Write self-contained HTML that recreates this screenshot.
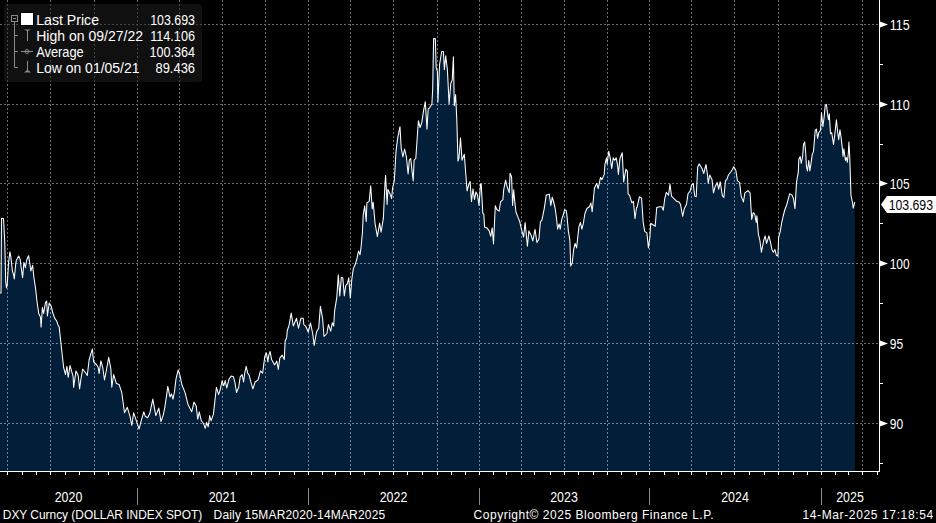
<!DOCTYPE html><html><head><meta charset="utf-8"><style>html,body{margin:0;padding:0;background:#000;overflow:hidden}svg{display:block}</style></head><body>
<svg width="936" height="523" viewBox="0 0 936 523" font-family="'Liberation Sans', sans-serif">
<rect width="936" height="523" fill="#000"/>
<path d="M0.0,293.0 L1.0,293.0 L1.5,218.4 L3.5,218.4 L4.8,243.0 L5.7,281.5 L6.5,288.0 L7.2,285.0 L8.6,262.4 L9.9,251.8 L10.8,256.5 L11.5,262.4 L12.4,271.0 L13.5,274.4 L14.3,279.0 L15.7,264.0 L16.3,260.4 L18.7,256.0 L20.2,259.4 L21.0,266.2 L22.6,277.6 L23.9,262.4 L25.4,267.7 L26.7,260.0 L28.6,255.7 L29.9,264.0 L30.8,271.0 L32.6,265.3 L34.0,278.0 L35.6,288.6 L36.8,299.8 L38.7,313.5 L40.5,317.2 L41.1,327.1 L42.4,307.3 L43.6,313.5 L45.5,302.3 L46.7,301.0 L47.4,316.0 L49.2,303.0 L51.1,306.0 L53.0,313.5 L54.8,318.4 L56.7,321.0 L57.9,324.7 L59.2,327.1 L61.8,351.0 L63.6,367.3 L65.5,374.5 L66.9,366.4 L68.2,377.3 L70.0,365.5 L71.8,371.8 L73.1,376.4 L73.6,387.3 L76.0,370.9 L78.2,375.5 L79.6,389.0 L80.9,379.0 L82.7,369.0 L85.5,372.7 L87.3,375.5 L89.1,360.0 L90.9,353.6 L92.4,349.0 L93.6,361.8 L96.4,364.5 L98.2,367.3 L99.1,373.6 L100.9,360.9 L102.7,367.3 L104.5,380.0 L106.4,370.0 L108.7,357.3 L110.9,369.0 L111.8,387.3 L113.6,374.5 L116.4,383.6 L119.1,384.5 L121.8,392.7 L124.5,412.7 L127.3,407.3 L130.0,416.4 L131.8,425.5 L133.6,412.7 L135.5,418.2 L137.3,423.6 L139.1,429.0 L141.6,419.3 L143.8,411.8 L145.3,416.3 L147.6,417.8 L149.8,413.3 L152.8,399.1 L155.8,415.6 L158.8,408.1 L161.0,421.6 L163.3,414.8 L164.8,407.3 L167.0,392.4 L167.8,386.4 L170.0,396.9 L171.5,393.9 L173.0,399.1 L174.5,391.6 L176.0,378.9 L178.2,370.0 L179.7,374.4 L182.0,385.0 L185.0,392.4 L188.0,404.4 L191.7,411.8 L194.0,402.1 L196.2,405.9 L197.7,419.3 L199.2,411.8 L201.4,420.8 L203.7,423.8 L205.2,428.3 L206.7,422.3 L208.2,426.8 L209.7,415.6 L211.1,420.8 L213.4,414.1 L216.4,387.2 L218.6,394.6 L220.0,390.3 L222.2,380.6 L223.7,385.8 L225.2,380.6 L226.7,388.0 L229.0,379.1 L231.2,376.1 L233.5,376.8 L235.0,382.8 L236.5,392.5 L238.7,387.3 L240.2,376.8 L242.1,374.6 L243.6,382.0 L244.7,373.1 L246.2,366.4 L247.7,373.1 L249.2,375.3 L250.7,381.3 L252.9,388.8 L255.1,382.0 L258.1,379.8 L260.4,370.9 L262.6,373.1 L264.9,355.9 L266.4,352.9 L267.9,361.9 L268.6,355.9 L270.1,351.4 L271.6,359.6 L274.6,364.9 L276.8,361.1 L278.3,369.4 L279.8,358.1 L282.1,355.1 L284.3,359.6 L285.1,340.9 L286.6,337.9 L287.3,330.5 L289.1,325.2 L291.2,313.0 L293.3,326.0 L296.5,318.3 L298.5,328.2 L300.9,318.3 L303.2,318.3 L303.8,324.5 L306.0,326.7 L308.2,332.0 L310.5,323.0 L312.7,333.5 L314.2,345.4 L316.5,332.0 L318.7,328.2 L320.4,306.3 L322.6,318.3 L324.0,336.5 L326.9,333.5 L328.4,324.5 L330.7,331.2 L332.3,322.8 L333.7,326.0 L334.6,310.8 L336.8,297.3 L338.3,274.9 L339.8,295.9 L341.3,277.2 L342.8,277.9 L344.3,295.9 L345.8,285.4 L347.3,283.9 L348.8,277.9 L350.3,298.1 L351.8,279.4 L353.3,268.9 L355.5,263.7 L357.0,258.5 L358.5,251.0 L360.0,254.7 L361.0,247.8 L362.4,232.8 L363.2,214.9 L364.7,205.9 L366.2,221.6 L366.9,202.9 L369.2,201.4 L370.7,185.7 L372.2,208.9 L373.2,202.2 L375.1,223.8 L377.4,236.6 L379.6,223.1 L381.1,232.1 L383.4,217.9 L384.9,185.0 L385.6,175.2 L387.1,204.4 L387.9,189.4 L390.1,193.9 L391.6,198.4 L392.6,187.8 L394.3,180.9 L396.0,151.6 L397.7,137.9 L400.0,126.7 L401.2,148.2 L402.9,156.8 L404.6,149.0 L406.4,156.8 L408.1,174.0 L409.3,160.2 L410.7,158.5 L412.0,170.6 L413.2,180.9 L414.1,160.2 L415.8,158.5 L418.4,120.7 L420.1,127.5 L421.8,122.4 L423.6,110.3 L425.3,101.7 L427.0,129.3 L428.2,108.6 L429.3,108.3 L431.9,104.0 L432.7,88.5 L433.6,38.6 L435.3,38.6 L436.2,67.9 L437.4,71.3 L437.9,102.3 L439.6,64.4 L441.7,51.5 L443.4,51.5 L444.4,69.6 L445.7,55.8 L447.4,69.6 L449.1,104.0 L450.8,83.4 L452.2,79.9 L453.4,56.7 L454.3,105.7 L455.6,94.5 L456.8,119.5 L458.0,161.1 L459.0,158.0 L460.5,137.9 L462.0,160.3 L464.3,154.3 L466.4,182.0 L467.1,190.9 L468.6,185.0 L470.1,181.5 L471.5,201.6 L473.0,188.9 L474.5,199.4 L476.0,191.9 L477.5,194.9 L479.0,205.4 L480.5,184.4 L481.2,183.7 L482.8,213.3 L483.8,214.1 L484.6,227.1 L486.9,227.9 L489.2,230.9 L490.7,236.3 L492.2,227.9 L493.5,243.9 L495.3,205.7 L496.8,209.5 L499.1,211.1 L500.6,201.9 L502.9,199.6 L503.7,189.7 L505.6,180.0 L507.1,186.7 L509.2,192.7 L510.1,173.2 L511.6,177.0 L512.6,205.4 L513.7,189.7 L514.4,198.1 L515.9,211.8 L518.2,217.9 L519.8,221.8 L521.3,228.6 L523.6,237.0 L525.1,222.5 L527.4,246.2 L528.9,230.9 L531.2,235.5 L532.8,240.9 L535.0,229.4 L536.9,242.4 L538.9,239.3 L540.4,221.8 L541.9,220.2 L544.2,208.8 L546.3,194.9 L549.3,194.2 L550.8,205.4 L552.3,197.2 L553.5,201.5 L555.0,207.5 L556.5,218.0 L557.6,229.2 L559.1,223.9 L560.2,229.2 L561.7,219.4 L563.2,215.0 L564.7,209.7 L566.2,210.5 L566.9,215.0 L568.4,231.4 L569.9,240.4 L570.7,266.0 L572.2,263.0 L573.7,249.4 L575.1,243.4 L576.6,247.9 L578.9,226.9 L580.4,222.4 L581.9,229.2 L583.4,223.2 L584.9,213.5 L587.1,208.2 L589.4,206.7 L590.9,203.0 L592.2,211.8 L594.5,187.9 L596.7,183.4 L598.2,188.6 L600.5,177.4 L602.0,179.6 L604.2,174.4 L605.0,163.9 L606.5,157.9 L607.2,163.9 L608.7,151.2 L610.2,157.9 L611.7,168.4 L613.2,157.9 L614.7,160.2 L616.2,157.9 L617.7,166.2 L618.4,174.4 L619.9,158.7 L622.2,152.7 L623.7,181.9 L625.9,169.2 L627.4,171.4 L628.1,193.8 L629.6,195.3 L631.9,202.8 L633.4,201.3 L635.0,218.7 L636.5,207.5 L637.1,207.3 L639.4,196.8 L641.6,198.3 L643.2,222.4 L644.7,231.4 L646.9,232.9 L648.4,247.9 L649.9,237.4 L650.7,223.2 L652.9,224.7 L655.2,226.2 L656.7,207.5 L659.7,206.7 L661.9,206.7 L663.3,210.3 L664.8,198.3 L666.3,192.3 L668.5,195.3 L670.0,184.1 L671.5,196.1 L673.8,198.3 L676.7,201.3 L679.0,202.1 L680.5,204.3 L682.7,216.3 L684.2,208.8 L686.5,204.3 L688.0,193.8 L690.2,190.9 L691.7,184.9 L693.2,183.4 L694.7,196.1 L696.2,196.8 L697.7,166.9 L699.2,163.9 L700.5,166.0 L702.2,169.0 L703.7,173.5 L706.0,164.5 L707.5,175.0 L708.2,183.2 L709.7,175.0 L712.0,179.4 L713.5,192.9 L715.0,186.9 L717.2,182.4 L718.7,189.2 L720.2,181.7 L722.4,195.9 L723.9,197.4 L725.4,180.9 L726.9,179.4 L728.4,175.0 L730.7,172.0 L732.2,169.7 L733.7,166.7 L735.9,170.5 L737.4,180.9 L739.6,182.4 L741.1,195.9 L743.4,201.9 L744.9,192.9 L747.9,190.7 L750.1,192.9 L751.7,219.4 L753.2,212.7 L754.7,214.2 L756.2,222.4 L756.9,215.7 L758.4,234.4 L759.9,240.4 L761.4,252.3 L763.7,240.4 L765.1,235.9 L766.6,243.4 L768.9,235.9 L770.4,241.9 L771.9,249.4 L773.4,252.3 L774.9,249.4 L776.4,255.3 L777.9,256.1 L778.6,237.4 L780.1,232.2 L781.6,223.2 L783.1,216.5 L784.6,210.5 L786.8,204.5 L787.5,201.9 L789.7,193.7 L792.0,195.1 L793.5,198.9 L795.0,208.6 L796.5,182.4 L798.3,171.9 L798.8,159.4 L800.2,156.5 L801.2,163.3 L802.6,156.5 L803.5,144.4 L804.7,142.0 L805.8,153.8 L806.4,166.2 L807.4,171.0 L808.8,160.4 L809.8,171.0 L810.8,165.2 L812.2,154.6 L813.5,151.4 L815.2,130.3 L816.4,129.1 L817.6,138.5 L818.8,132.6 L820.5,130.3 L821.5,112.6 L822.9,126.7 L824.1,117.3 L825.2,105.6 L826.4,104.4 L827.6,113.8 L828.5,119.7 L829.3,113.8 L830.5,133.8 L831.7,132.6 L833.5,144.4 L834.6,136.1 L836.4,119.7 L837.6,131.4 L838.7,139.7 L839.9,129.7 L841.1,137.3 L842.3,147.9 L843.0,156.5 L843.9,148.8 L845.4,160.4 L846.3,157.5 L847.3,162.3 L848.3,153.7 L848.9,142.0 L849.7,156.0 L851.0,195.5 L852.6,203.0 L853.2,208.2 L854.8,202.0 L854.8,471 L0,471 Z" fill="#021e39"/>
<defs><clipPath id="fc"><path d="M0.0,293.0 L1.0,293.0 L1.5,218.4 L3.5,218.4 L4.8,243.0 L5.7,281.5 L6.5,288.0 L7.2,285.0 L8.6,262.4 L9.9,251.8 L10.8,256.5 L11.5,262.4 L12.4,271.0 L13.5,274.4 L14.3,279.0 L15.7,264.0 L16.3,260.4 L18.7,256.0 L20.2,259.4 L21.0,266.2 L22.6,277.6 L23.9,262.4 L25.4,267.7 L26.7,260.0 L28.6,255.7 L29.9,264.0 L30.8,271.0 L32.6,265.3 L34.0,278.0 L35.6,288.6 L36.8,299.8 L38.7,313.5 L40.5,317.2 L41.1,327.1 L42.4,307.3 L43.6,313.5 L45.5,302.3 L46.7,301.0 L47.4,316.0 L49.2,303.0 L51.1,306.0 L53.0,313.5 L54.8,318.4 L56.7,321.0 L57.9,324.7 L59.2,327.1 L61.8,351.0 L63.6,367.3 L65.5,374.5 L66.9,366.4 L68.2,377.3 L70.0,365.5 L71.8,371.8 L73.1,376.4 L73.6,387.3 L76.0,370.9 L78.2,375.5 L79.6,389.0 L80.9,379.0 L82.7,369.0 L85.5,372.7 L87.3,375.5 L89.1,360.0 L90.9,353.6 L92.4,349.0 L93.6,361.8 L96.4,364.5 L98.2,367.3 L99.1,373.6 L100.9,360.9 L102.7,367.3 L104.5,380.0 L106.4,370.0 L108.7,357.3 L110.9,369.0 L111.8,387.3 L113.6,374.5 L116.4,383.6 L119.1,384.5 L121.8,392.7 L124.5,412.7 L127.3,407.3 L130.0,416.4 L131.8,425.5 L133.6,412.7 L135.5,418.2 L137.3,423.6 L139.1,429.0 L141.6,419.3 L143.8,411.8 L145.3,416.3 L147.6,417.8 L149.8,413.3 L152.8,399.1 L155.8,415.6 L158.8,408.1 L161.0,421.6 L163.3,414.8 L164.8,407.3 L167.0,392.4 L167.8,386.4 L170.0,396.9 L171.5,393.9 L173.0,399.1 L174.5,391.6 L176.0,378.9 L178.2,370.0 L179.7,374.4 L182.0,385.0 L185.0,392.4 L188.0,404.4 L191.7,411.8 L194.0,402.1 L196.2,405.9 L197.7,419.3 L199.2,411.8 L201.4,420.8 L203.7,423.8 L205.2,428.3 L206.7,422.3 L208.2,426.8 L209.7,415.6 L211.1,420.8 L213.4,414.1 L216.4,387.2 L218.6,394.6 L220.0,390.3 L222.2,380.6 L223.7,385.8 L225.2,380.6 L226.7,388.0 L229.0,379.1 L231.2,376.1 L233.5,376.8 L235.0,382.8 L236.5,392.5 L238.7,387.3 L240.2,376.8 L242.1,374.6 L243.6,382.0 L244.7,373.1 L246.2,366.4 L247.7,373.1 L249.2,375.3 L250.7,381.3 L252.9,388.8 L255.1,382.0 L258.1,379.8 L260.4,370.9 L262.6,373.1 L264.9,355.9 L266.4,352.9 L267.9,361.9 L268.6,355.9 L270.1,351.4 L271.6,359.6 L274.6,364.9 L276.8,361.1 L278.3,369.4 L279.8,358.1 L282.1,355.1 L284.3,359.6 L285.1,340.9 L286.6,337.9 L287.3,330.5 L289.1,325.2 L291.2,313.0 L293.3,326.0 L296.5,318.3 L298.5,328.2 L300.9,318.3 L303.2,318.3 L303.8,324.5 L306.0,326.7 L308.2,332.0 L310.5,323.0 L312.7,333.5 L314.2,345.4 L316.5,332.0 L318.7,328.2 L320.4,306.3 L322.6,318.3 L324.0,336.5 L326.9,333.5 L328.4,324.5 L330.7,331.2 L332.3,322.8 L333.7,326.0 L334.6,310.8 L336.8,297.3 L338.3,274.9 L339.8,295.9 L341.3,277.2 L342.8,277.9 L344.3,295.9 L345.8,285.4 L347.3,283.9 L348.8,277.9 L350.3,298.1 L351.8,279.4 L353.3,268.9 L355.5,263.7 L357.0,258.5 L358.5,251.0 L360.0,254.7 L361.0,247.8 L362.4,232.8 L363.2,214.9 L364.7,205.9 L366.2,221.6 L366.9,202.9 L369.2,201.4 L370.7,185.7 L372.2,208.9 L373.2,202.2 L375.1,223.8 L377.4,236.6 L379.6,223.1 L381.1,232.1 L383.4,217.9 L384.9,185.0 L385.6,175.2 L387.1,204.4 L387.9,189.4 L390.1,193.9 L391.6,198.4 L392.6,187.8 L394.3,180.9 L396.0,151.6 L397.7,137.9 L400.0,126.7 L401.2,148.2 L402.9,156.8 L404.6,149.0 L406.4,156.8 L408.1,174.0 L409.3,160.2 L410.7,158.5 L412.0,170.6 L413.2,180.9 L414.1,160.2 L415.8,158.5 L418.4,120.7 L420.1,127.5 L421.8,122.4 L423.6,110.3 L425.3,101.7 L427.0,129.3 L428.2,108.6 L429.3,108.3 L431.9,104.0 L432.7,88.5 L433.6,38.6 L435.3,38.6 L436.2,67.9 L437.4,71.3 L437.9,102.3 L439.6,64.4 L441.7,51.5 L443.4,51.5 L444.4,69.6 L445.7,55.8 L447.4,69.6 L449.1,104.0 L450.8,83.4 L452.2,79.9 L453.4,56.7 L454.3,105.7 L455.6,94.5 L456.8,119.5 L458.0,161.1 L459.0,158.0 L460.5,137.9 L462.0,160.3 L464.3,154.3 L466.4,182.0 L467.1,190.9 L468.6,185.0 L470.1,181.5 L471.5,201.6 L473.0,188.9 L474.5,199.4 L476.0,191.9 L477.5,194.9 L479.0,205.4 L480.5,184.4 L481.2,183.7 L482.8,213.3 L483.8,214.1 L484.6,227.1 L486.9,227.9 L489.2,230.9 L490.7,236.3 L492.2,227.9 L493.5,243.9 L495.3,205.7 L496.8,209.5 L499.1,211.1 L500.6,201.9 L502.9,199.6 L503.7,189.7 L505.6,180.0 L507.1,186.7 L509.2,192.7 L510.1,173.2 L511.6,177.0 L512.6,205.4 L513.7,189.7 L514.4,198.1 L515.9,211.8 L518.2,217.9 L519.8,221.8 L521.3,228.6 L523.6,237.0 L525.1,222.5 L527.4,246.2 L528.9,230.9 L531.2,235.5 L532.8,240.9 L535.0,229.4 L536.9,242.4 L538.9,239.3 L540.4,221.8 L541.9,220.2 L544.2,208.8 L546.3,194.9 L549.3,194.2 L550.8,205.4 L552.3,197.2 L553.5,201.5 L555.0,207.5 L556.5,218.0 L557.6,229.2 L559.1,223.9 L560.2,229.2 L561.7,219.4 L563.2,215.0 L564.7,209.7 L566.2,210.5 L566.9,215.0 L568.4,231.4 L569.9,240.4 L570.7,266.0 L572.2,263.0 L573.7,249.4 L575.1,243.4 L576.6,247.9 L578.9,226.9 L580.4,222.4 L581.9,229.2 L583.4,223.2 L584.9,213.5 L587.1,208.2 L589.4,206.7 L590.9,203.0 L592.2,211.8 L594.5,187.9 L596.7,183.4 L598.2,188.6 L600.5,177.4 L602.0,179.6 L604.2,174.4 L605.0,163.9 L606.5,157.9 L607.2,163.9 L608.7,151.2 L610.2,157.9 L611.7,168.4 L613.2,157.9 L614.7,160.2 L616.2,157.9 L617.7,166.2 L618.4,174.4 L619.9,158.7 L622.2,152.7 L623.7,181.9 L625.9,169.2 L627.4,171.4 L628.1,193.8 L629.6,195.3 L631.9,202.8 L633.4,201.3 L635.0,218.7 L636.5,207.5 L637.1,207.3 L639.4,196.8 L641.6,198.3 L643.2,222.4 L644.7,231.4 L646.9,232.9 L648.4,247.9 L649.9,237.4 L650.7,223.2 L652.9,224.7 L655.2,226.2 L656.7,207.5 L659.7,206.7 L661.9,206.7 L663.3,210.3 L664.8,198.3 L666.3,192.3 L668.5,195.3 L670.0,184.1 L671.5,196.1 L673.8,198.3 L676.7,201.3 L679.0,202.1 L680.5,204.3 L682.7,216.3 L684.2,208.8 L686.5,204.3 L688.0,193.8 L690.2,190.9 L691.7,184.9 L693.2,183.4 L694.7,196.1 L696.2,196.8 L697.7,166.9 L699.2,163.9 L700.5,166.0 L702.2,169.0 L703.7,173.5 L706.0,164.5 L707.5,175.0 L708.2,183.2 L709.7,175.0 L712.0,179.4 L713.5,192.9 L715.0,186.9 L717.2,182.4 L718.7,189.2 L720.2,181.7 L722.4,195.9 L723.9,197.4 L725.4,180.9 L726.9,179.4 L728.4,175.0 L730.7,172.0 L732.2,169.7 L733.7,166.7 L735.9,170.5 L737.4,180.9 L739.6,182.4 L741.1,195.9 L743.4,201.9 L744.9,192.9 L747.9,190.7 L750.1,192.9 L751.7,219.4 L753.2,212.7 L754.7,214.2 L756.2,222.4 L756.9,215.7 L758.4,234.4 L759.9,240.4 L761.4,252.3 L763.7,240.4 L765.1,235.9 L766.6,243.4 L768.9,235.9 L770.4,241.9 L771.9,249.4 L773.4,252.3 L774.9,249.4 L776.4,255.3 L777.9,256.1 L778.6,237.4 L780.1,232.2 L781.6,223.2 L783.1,216.5 L784.6,210.5 L786.8,204.5 L787.5,201.9 L789.7,193.7 L792.0,195.1 L793.5,198.9 L795.0,208.6 L796.5,182.4 L798.3,171.9 L798.8,159.4 L800.2,156.5 L801.2,163.3 L802.6,156.5 L803.5,144.4 L804.7,142.0 L805.8,153.8 L806.4,166.2 L807.4,171.0 L808.8,160.4 L809.8,171.0 L810.8,165.2 L812.2,154.6 L813.5,151.4 L815.2,130.3 L816.4,129.1 L817.6,138.5 L818.8,132.6 L820.5,130.3 L821.5,112.6 L822.9,126.7 L824.1,117.3 L825.2,105.6 L826.4,104.4 L827.6,113.8 L828.5,119.7 L829.3,113.8 L830.5,133.8 L831.7,132.6 L833.5,144.4 L834.6,136.1 L836.4,119.7 L837.6,131.4 L838.7,139.7 L839.9,129.7 L841.1,137.3 L842.3,147.9 L843.0,156.5 L843.9,148.8 L845.4,160.4 L846.3,157.5 L847.3,162.3 L848.3,153.7 L848.9,142.0 L849.7,156.0 L851.0,195.5 L852.6,203.0 L853.2,208.2 L854.8,202.0 L854.8,471 L0,471 Z"/></clipPath></defs>
<path d="M0,24.5 H879 M0,104.5 H879 M0,183.5 H879 M0,263.5 H879 M0,343.5 H879 M0,423.5 H879 M7.5,0 V471 M50.5,0 V471 M94.5,0 V471 M137.5,0 V471 M179.5,0 V471 M222.5,0 V471 M265.5,0 V471 M308.5,0 V471 M350.5,0 V471 M393.5,0 V471 M437.5,0 V471 M479.5,0 V471 M521.5,0 V471 M564.5,0 V471 M607.5,0 V471 M649.5,0 V471 M691.5,0 V471 M734.5,0 V471 M778.5,0 V471 M821.5,0 V471 M862.5,0 V471" stroke="#6b6b6b" stroke-width="1" stroke-dasharray="2,2" fill="none"/>
<path d="M0,24.5 H879 M0,104.5 H879 M0,183.5 H879 M0,263.5 H879 M0,343.5 H879 M0,423.5 H879 M7.5,0 V471 M50.5,0 V471 M94.5,0 V471 M137.5,0 V471 M179.5,0 V471 M222.5,0 V471 M265.5,0 V471 M308.5,0 V471 M350.5,0 V471 M393.5,0 V471 M437.5,0 V471 M479.5,0 V471 M521.5,0 V471 M564.5,0 V471 M607.5,0 V471 M649.5,0 V471 M691.5,0 V471 M734.5,0 V471 M778.5,0 V471 M821.5,0 V471 M862.5,0 V471" stroke="#6885a2" stroke-width="1" stroke-dasharray="2,2" fill="none" clip-path="url(#fc)"/>
<path d="M0.0,293.0 L1.0,293.0 L1.5,218.4 L3.5,218.4 L4.8,243.0 L5.7,281.5 L6.5,288.0 L7.2,285.0 L8.6,262.4 L9.9,251.8 L10.8,256.5 L11.5,262.4 L12.4,271.0 L13.5,274.4 L14.3,279.0 L15.7,264.0 L16.3,260.4 L18.7,256.0 L20.2,259.4 L21.0,266.2 L22.6,277.6 L23.9,262.4 L25.4,267.7 L26.7,260.0 L28.6,255.7 L29.9,264.0 L30.8,271.0 L32.6,265.3 L34.0,278.0 L35.6,288.6 L36.8,299.8 L38.7,313.5 L40.5,317.2 L41.1,327.1 L42.4,307.3 L43.6,313.5 L45.5,302.3 L46.7,301.0 L47.4,316.0 L49.2,303.0 L51.1,306.0 L53.0,313.5 L54.8,318.4 L56.7,321.0 L57.9,324.7 L59.2,327.1 L61.8,351.0 L63.6,367.3 L65.5,374.5 L66.9,366.4 L68.2,377.3 L70.0,365.5 L71.8,371.8 L73.1,376.4 L73.6,387.3 L76.0,370.9 L78.2,375.5 L79.6,389.0 L80.9,379.0 L82.7,369.0 L85.5,372.7 L87.3,375.5 L89.1,360.0 L90.9,353.6 L92.4,349.0 L93.6,361.8 L96.4,364.5 L98.2,367.3 L99.1,373.6 L100.9,360.9 L102.7,367.3 L104.5,380.0 L106.4,370.0 L108.7,357.3 L110.9,369.0 L111.8,387.3 L113.6,374.5 L116.4,383.6 L119.1,384.5 L121.8,392.7 L124.5,412.7 L127.3,407.3 L130.0,416.4 L131.8,425.5 L133.6,412.7 L135.5,418.2 L137.3,423.6 L139.1,429.0 L141.6,419.3 L143.8,411.8 L145.3,416.3 L147.6,417.8 L149.8,413.3 L152.8,399.1 L155.8,415.6 L158.8,408.1 L161.0,421.6 L163.3,414.8 L164.8,407.3 L167.0,392.4 L167.8,386.4 L170.0,396.9 L171.5,393.9 L173.0,399.1 L174.5,391.6 L176.0,378.9 L178.2,370.0 L179.7,374.4 L182.0,385.0 L185.0,392.4 L188.0,404.4 L191.7,411.8 L194.0,402.1 L196.2,405.9 L197.7,419.3 L199.2,411.8 L201.4,420.8 L203.7,423.8 L205.2,428.3 L206.7,422.3 L208.2,426.8 L209.7,415.6 L211.1,420.8 L213.4,414.1 L216.4,387.2 L218.6,394.6 L220.0,390.3 L222.2,380.6 L223.7,385.8 L225.2,380.6 L226.7,388.0 L229.0,379.1 L231.2,376.1 L233.5,376.8 L235.0,382.8 L236.5,392.5 L238.7,387.3 L240.2,376.8 L242.1,374.6 L243.6,382.0 L244.7,373.1 L246.2,366.4 L247.7,373.1 L249.2,375.3 L250.7,381.3 L252.9,388.8 L255.1,382.0 L258.1,379.8 L260.4,370.9 L262.6,373.1 L264.9,355.9 L266.4,352.9 L267.9,361.9 L268.6,355.9 L270.1,351.4 L271.6,359.6 L274.6,364.9 L276.8,361.1 L278.3,369.4 L279.8,358.1 L282.1,355.1 L284.3,359.6 L285.1,340.9 L286.6,337.9 L287.3,330.5 L289.1,325.2 L291.2,313.0 L293.3,326.0 L296.5,318.3 L298.5,328.2 L300.9,318.3 L303.2,318.3 L303.8,324.5 L306.0,326.7 L308.2,332.0 L310.5,323.0 L312.7,333.5 L314.2,345.4 L316.5,332.0 L318.7,328.2 L320.4,306.3 L322.6,318.3 L324.0,336.5 L326.9,333.5 L328.4,324.5 L330.7,331.2 L332.3,322.8 L333.7,326.0 L334.6,310.8 L336.8,297.3 L338.3,274.9 L339.8,295.9 L341.3,277.2 L342.8,277.9 L344.3,295.9 L345.8,285.4 L347.3,283.9 L348.8,277.9 L350.3,298.1 L351.8,279.4 L353.3,268.9 L355.5,263.7 L357.0,258.5 L358.5,251.0 L360.0,254.7 L361.0,247.8 L362.4,232.8 L363.2,214.9 L364.7,205.9 L366.2,221.6 L366.9,202.9 L369.2,201.4 L370.7,185.7 L372.2,208.9 L373.2,202.2 L375.1,223.8 L377.4,236.6 L379.6,223.1 L381.1,232.1 L383.4,217.9 L384.9,185.0 L385.6,175.2 L387.1,204.4 L387.9,189.4 L390.1,193.9 L391.6,198.4 L392.6,187.8 L394.3,180.9 L396.0,151.6 L397.7,137.9 L400.0,126.7 L401.2,148.2 L402.9,156.8 L404.6,149.0 L406.4,156.8 L408.1,174.0 L409.3,160.2 L410.7,158.5 L412.0,170.6 L413.2,180.9 L414.1,160.2 L415.8,158.5 L418.4,120.7 L420.1,127.5 L421.8,122.4 L423.6,110.3 L425.3,101.7 L427.0,129.3 L428.2,108.6 L429.3,108.3 L431.9,104.0 L432.7,88.5 L433.6,38.6 L435.3,38.6 L436.2,67.9 L437.4,71.3 L437.9,102.3 L439.6,64.4 L441.7,51.5 L443.4,51.5 L444.4,69.6 L445.7,55.8 L447.4,69.6 L449.1,104.0 L450.8,83.4 L452.2,79.9 L453.4,56.7 L454.3,105.7 L455.6,94.5 L456.8,119.5 L458.0,161.1 L459.0,158.0 L460.5,137.9 L462.0,160.3 L464.3,154.3 L466.4,182.0 L467.1,190.9 L468.6,185.0 L470.1,181.5 L471.5,201.6 L473.0,188.9 L474.5,199.4 L476.0,191.9 L477.5,194.9 L479.0,205.4 L480.5,184.4 L481.2,183.7 L482.8,213.3 L483.8,214.1 L484.6,227.1 L486.9,227.9 L489.2,230.9 L490.7,236.3 L492.2,227.9 L493.5,243.9 L495.3,205.7 L496.8,209.5 L499.1,211.1 L500.6,201.9 L502.9,199.6 L503.7,189.7 L505.6,180.0 L507.1,186.7 L509.2,192.7 L510.1,173.2 L511.6,177.0 L512.6,205.4 L513.7,189.7 L514.4,198.1 L515.9,211.8 L518.2,217.9 L519.8,221.8 L521.3,228.6 L523.6,237.0 L525.1,222.5 L527.4,246.2 L528.9,230.9 L531.2,235.5 L532.8,240.9 L535.0,229.4 L536.9,242.4 L538.9,239.3 L540.4,221.8 L541.9,220.2 L544.2,208.8 L546.3,194.9 L549.3,194.2 L550.8,205.4 L552.3,197.2 L553.5,201.5 L555.0,207.5 L556.5,218.0 L557.6,229.2 L559.1,223.9 L560.2,229.2 L561.7,219.4 L563.2,215.0 L564.7,209.7 L566.2,210.5 L566.9,215.0 L568.4,231.4 L569.9,240.4 L570.7,266.0 L572.2,263.0 L573.7,249.4 L575.1,243.4 L576.6,247.9 L578.9,226.9 L580.4,222.4 L581.9,229.2 L583.4,223.2 L584.9,213.5 L587.1,208.2 L589.4,206.7 L590.9,203.0 L592.2,211.8 L594.5,187.9 L596.7,183.4 L598.2,188.6 L600.5,177.4 L602.0,179.6 L604.2,174.4 L605.0,163.9 L606.5,157.9 L607.2,163.9 L608.7,151.2 L610.2,157.9 L611.7,168.4 L613.2,157.9 L614.7,160.2 L616.2,157.9 L617.7,166.2 L618.4,174.4 L619.9,158.7 L622.2,152.7 L623.7,181.9 L625.9,169.2 L627.4,171.4 L628.1,193.8 L629.6,195.3 L631.9,202.8 L633.4,201.3 L635.0,218.7 L636.5,207.5 L637.1,207.3 L639.4,196.8 L641.6,198.3 L643.2,222.4 L644.7,231.4 L646.9,232.9 L648.4,247.9 L649.9,237.4 L650.7,223.2 L652.9,224.7 L655.2,226.2 L656.7,207.5 L659.7,206.7 L661.9,206.7 L663.3,210.3 L664.8,198.3 L666.3,192.3 L668.5,195.3 L670.0,184.1 L671.5,196.1 L673.8,198.3 L676.7,201.3 L679.0,202.1 L680.5,204.3 L682.7,216.3 L684.2,208.8 L686.5,204.3 L688.0,193.8 L690.2,190.9 L691.7,184.9 L693.2,183.4 L694.7,196.1 L696.2,196.8 L697.7,166.9 L699.2,163.9 L700.5,166.0 L702.2,169.0 L703.7,173.5 L706.0,164.5 L707.5,175.0 L708.2,183.2 L709.7,175.0 L712.0,179.4 L713.5,192.9 L715.0,186.9 L717.2,182.4 L718.7,189.2 L720.2,181.7 L722.4,195.9 L723.9,197.4 L725.4,180.9 L726.9,179.4 L728.4,175.0 L730.7,172.0 L732.2,169.7 L733.7,166.7 L735.9,170.5 L737.4,180.9 L739.6,182.4 L741.1,195.9 L743.4,201.9 L744.9,192.9 L747.9,190.7 L750.1,192.9 L751.7,219.4 L753.2,212.7 L754.7,214.2 L756.2,222.4 L756.9,215.7 L758.4,234.4 L759.9,240.4 L761.4,252.3 L763.7,240.4 L765.1,235.9 L766.6,243.4 L768.9,235.9 L770.4,241.9 L771.9,249.4 L773.4,252.3 L774.9,249.4 L776.4,255.3 L777.9,256.1 L778.6,237.4 L780.1,232.2 L781.6,223.2 L783.1,216.5 L784.6,210.5 L786.8,204.5 L787.5,201.9 L789.7,193.7 L792.0,195.1 L793.5,198.9 L795.0,208.6 L796.5,182.4 L798.3,171.9 L798.8,159.4 L800.2,156.5 L801.2,163.3 L802.6,156.5 L803.5,144.4 L804.7,142.0 L805.8,153.8 L806.4,166.2 L807.4,171.0 L808.8,160.4 L809.8,171.0 L810.8,165.2 L812.2,154.6 L813.5,151.4 L815.2,130.3 L816.4,129.1 L817.6,138.5 L818.8,132.6 L820.5,130.3 L821.5,112.6 L822.9,126.7 L824.1,117.3 L825.2,105.6 L826.4,104.4 L827.6,113.8 L828.5,119.7 L829.3,113.8 L830.5,133.8 L831.7,132.6 L833.5,144.4 L834.6,136.1 L836.4,119.7 L837.6,131.4 L838.7,139.7 L839.9,129.7 L841.1,137.3 L842.3,147.9 L843.0,156.5 L843.9,148.8 L845.4,160.4 L846.3,157.5 L847.3,162.3 L848.3,153.7 L848.9,142.0 L849.7,156.0 L851.0,195.5 L852.6,203.0 L853.2,208.2 L854.8,202.0" stroke="#fff" stroke-width="1.05" fill="none" stroke-linejoin="round"/>
<path d="M879.5,0 V472 M0,471.5 H880" stroke="#fff" stroke-width="1" fill="none"/>
<path d="M7.5,472 V475 M22.5,472 V475 M36.5,472 V475 M50.5,472 V475 M65.5,472 V475 M79.5,472 V475 M94.5,472 V475 M108.5,472 V475 M122.5,472 V475 M137.5,472 V475 M150.5,472 V475 M164.5,472 V475 M179.5,472 V475 M193.5,472 V475 M207.5,472 V475 M222.5,472 V475 M236.5,472 V475 M251.5,472 V475 M265.5,472 V475 M279.5,472 V475 M294.5,472 V475 M308.5,472 V475 M322.5,472 V475 M335.5,472 V475 M350.5,472 V475 M364.5,472 V475 M379.5,472 V475 M393.5,472 V475 M407.5,472 V475 M422.5,472 V475 M437.5,472 V475 M451.5,472 V475 M465.5,472 V475 M479.5,472 V475 M493.5,472 V475 M506.5,472 V475 M521.5,472 V475 M534.5,472 V475 M550.5,472 V475 M564.5,472 V475 M578.5,472 V475 M593.5,472 V475 M607.5,472 V475 M621.5,472 V475 M636.5,472 V475 M649.5,472 V475 M664.5,472 V475 M678.5,472 V475 M691.5,472 V475 M706.5,472 V475 M721.5,472 V475 M734.5,472 V475 M749.5,472 V475 M764.5,472 V475 M778.5,472 V475 M793.5,472 V475 M807.5,472 V475 M821.5,472 V475 M835.5,472 V475 M848.5,472 V475 M862.5,472 V475 M877.5,472 V475" stroke="#fff" stroke-width="1" fill="none"/>
<path d="M880,64.5 H883 M880,144.5 H883 M880,223.5 H883 M880,303.5 H883 M880,383.5 H883 M880,463.5 H883" stroke="#fff" stroke-width="1" fill="none"/>
<path d="M880,21.5 L888,24.5 L880,27.5 Z" fill="#fff"/>
<text x="889.7" y="30.0" font-size="14" fill="#fff" textLength="20" lengthAdjust="spacingAndGlyphs">115</text>
<path d="M880,101.5 L888,104.5 L880,107.5 Z" fill="#fff"/>
<text x="889.7" y="110.0" font-size="14" fill="#fff" textLength="20" lengthAdjust="spacingAndGlyphs">110</text>
<path d="M880,180.5 L888,183.5 L880,186.5 Z" fill="#fff"/>
<text x="889.7" y="189.0" font-size="14" fill="#fff" textLength="20" lengthAdjust="spacingAndGlyphs">105</text>
<path d="M880,260.5 L888,263.5 L880,266.5 Z" fill="#fff"/>
<text x="889.7" y="269.0" font-size="14" fill="#fff" textLength="20" lengthAdjust="spacingAndGlyphs">100</text>
<path d="M880,340.5 L888,343.5 L880,346.5 Z" fill="#fff"/>
<text x="889.7" y="349.0" font-size="14" fill="#fff" textLength="13.4" lengthAdjust="spacingAndGlyphs">95</text>
<path d="M880,420.5 L888,423.5 L880,426.5 Z" fill="#fff"/>
<text x="889.7" y="429.0" font-size="14" fill="#fff" textLength="13.4" lengthAdjust="spacingAndGlyphs">90</text>
<path d="M881,204.5 L887,196 H936 V213 H887 Z" fill="#fff"/>
<text x="888.7" y="209.7" font-size="14" fill="#000" textLength="44.3" lengthAdjust="spacingAndGlyphs">103.693</text>
<path d="M137.5,488 V505 M308.5,488 V505 M479.5,488 V505 M649.5,488 V505 M821.5,488 V505" stroke="#8a8a8a" stroke-width="1" fill="none"/>
<text x="68.5" y="502" font-size="14" fill="#fff" text-anchor="middle" textLength="27.6" lengthAdjust="spacingAndGlyphs">2020</text>
<text x="222.5" y="502" font-size="14" fill="#fff" text-anchor="middle" textLength="27.6" lengthAdjust="spacingAndGlyphs">2021</text>
<text x="393.5" y="502" font-size="14" fill="#fff" text-anchor="middle" textLength="27.6" lengthAdjust="spacingAndGlyphs">2022</text>
<text x="564.0" y="502" font-size="14" fill="#fff" text-anchor="middle" textLength="27.6" lengthAdjust="spacingAndGlyphs">2023</text>
<text x="735.0" y="502" font-size="14" fill="#fff" text-anchor="middle" textLength="27.6" lengthAdjust="spacingAndGlyphs">2024</text>
<text x="850.0" y="502" font-size="14" fill="#fff" text-anchor="middle" textLength="27.6" lengthAdjust="spacingAndGlyphs">2025</text>
<text x="2.8" y="518.6" font-size="12" fill="#fff" text-anchor="start" textLength="199.5" lengthAdjust="spacingAndGlyphs">DXY Curncy (DOLLAR INDEX SPOT)</text>
<text x="213.6" y="518.6" font-size="12" fill="#fff" text-anchor="start" textLength="171.6" lengthAdjust="spacing">Daily 15MAR2020-14MAR2025</text>
<text x="473.6" y="518.6" font-size="12" fill="#fff" text-anchor="start" textLength="239.9" lengthAdjust="spacing">Copyright© 2025 Bloomberg Finance L.P.</text>
<text x="802.4" y="518.6" font-size="12" fill="#fff" text-anchor="start" textLength="130.8" lengthAdjust="spacing">14-Mar-2025 17:18:54</text>
<rect x="4" y="4" width="198" height="78" rx="3" fill="#202020" fill-opacity="0.5"/>
<rect x="20" y="12" width="14" height="14" fill="#000"/><rect x="21" y="13" width="12" height="12" fill="#fff"/>
<rect x="11.5" y="15.5" width="6" height="6" fill="none" stroke="#8a8a8a" stroke-width="1"/>
<path d="M13,18.5 H16" stroke="#8a8a8a" stroke-width="1"/>
<path d="M14.5,22 V67.5 H18 M14.5,35.5 H18 M14.5,51.5 H18" stroke="#8a8a8a" stroke-width="1" fill="none"/>
<path d="M24,29.5 H31 L28,31 V41 H27 V31 Z" fill="#8a8a8a"/>
<path d="M21,51.5 H33" stroke="#8a8a8a" stroke-width="1"/><circle cx="27" cy="51.5" r="2" fill="none" stroke="#8a8a8a" stroke-width="1"/>
<path d="M27,61 H28 V70 L31,72.5 H24 L27,70 Z" fill="#8a8a8a"/>
<text x="36.2" y="25" font-size="14" fill="#fff" text-anchor="start" textLength="62.8" lengthAdjust="spacingAndGlyphs">Last Price</text>
<text x="195" y="25" font-size="14" fill="#fff" text-anchor="end" textLength="44.8" lengthAdjust="spacingAndGlyphs">103.693</text>
<text x="36.2" y="41" font-size="14" fill="#fff" text-anchor="start" textLength="106.8" lengthAdjust="spacingAndGlyphs">High on 09/27/22</text>
<text x="195" y="41" font-size="14" fill="#fff" text-anchor="end" textLength="44.8" lengthAdjust="spacingAndGlyphs">114.106</text>
<text x="36.2" y="57" font-size="14" fill="#fff" text-anchor="start" textLength="47.55" lengthAdjust="spacingAndGlyphs">Average</text>
<text x="195" y="57" font-size="14" fill="#fff" text-anchor="end" textLength="45.5" lengthAdjust="spacingAndGlyphs">100.364</text>
<text x="36.2" y="73" font-size="14" fill="#fff" text-anchor="start" textLength="103.3" lengthAdjust="spacingAndGlyphs">Low on 01/05/21</text>
<text x="195" y="73" font-size="14" fill="#fff" text-anchor="end" textLength="39.5" lengthAdjust="spacingAndGlyphs">89.436</text>
</svg></body></html>
